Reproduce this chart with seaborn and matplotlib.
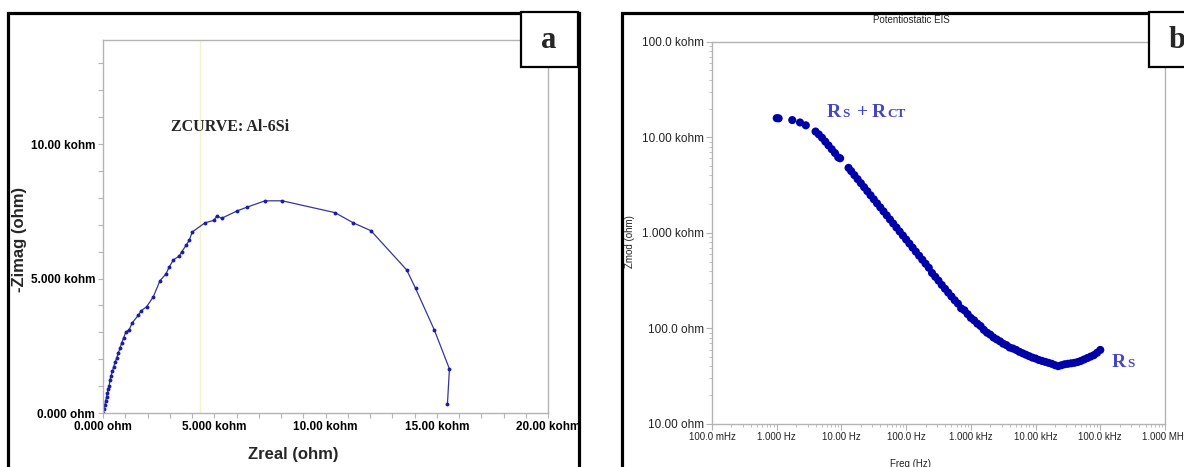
import numpy as np
import pandas as pd
import matplotlib
matplotlib.use("Agg")
import matplotlib.pyplot as plt
import seaborn as sns
from matplotlib.patches import Rectangle
from matplotlib.ticker import FixedLocator, LogLocator, NullFormatter

# ---------------- data ----------------
# Panel a: Nyquist plot (kohm)
zreal_kohm = [0.00, 0.04, 0.08, 0.12, 0.16, 0.20, 0.24, 0.28, 0.31, 0.36,
              0.42, 0.48, 0.54, 0.61, 0.68, 0.76, 0.84, 0.93, 1.03, 1.17,
              1.32, 1.59, 1.71, 1.96, 2.26, 2.56, 2.83, 2.97, 3.16, 3.43,
              3.54, 3.73, 3.88, 4.01, 4.58, 5.00, 5.11, 5.33, 6.04, 6.46,
              7.28, 8.06, 10.43, 11.25, 12.04, 13.65, 14.05, 14.89, 15.57, 15.48]
zimag_kohm = [0.00, 0.15, 0.30, 0.45, 0.60, 0.74, 0.88, 1.02, 1.23, 1.38,
              1.55, 1.72, 1.88, 2.03, 2.22, 2.40, 2.61, 2.80, 3.02, 3.09,
              3.36, 3.64, 3.80, 3.95, 4.32, 4.92, 5.17, 5.42, 5.69, 5.84,
              6.00, 6.23, 6.43, 6.73, 7.07, 7.17, 7.33, 7.24, 7.52, 7.65,
              7.89, 7.89, 7.45, 7.07, 6.78, 5.32, 4.63, 3.09, 1.64, 0.33]

# Panel b: Bode |Z| (log10 values)
log10_freq = [0.00, 0.03, 0.24, 0.36, 0.45,
              0.60, 0.65, 0.70, 0.75, 0.80, 0.85, 0.90, 0.95, 0.98,
              1.11, 1.15, 1.20, 1.25, 1.30, 1.35, 1.40, 1.45, 1.50, 1.55,
              1.60, 1.65, 1.70, 1.75, 1.80, 1.85, 1.90, 1.95, 2.00, 2.05,
              2.10, 2.15, 2.20, 2.25, 2.30, 2.35, 2.40, 2.45, 2.50, 2.55,
              2.60, 2.65, 2.70, 2.75, 2.80, 2.85, 2.90, 2.95, 3.00, 3.05,
              3.10, 3.15, 3.20, 3.25, 3.30, 3.35, 3.40, 3.45, 3.50, 3.55,
              3.60, 3.65, 3.70, 3.75, 3.80, 3.85, 3.90, 3.95, 4.00, 4.05,
              4.10, 4.15, 4.20, 4.25, 4.30, 4.35, 4.40, 4.45, 4.50, 4.55,
              4.60, 4.65, 4.70, 4.75, 4.80, 4.85, 4.90, 4.95, 5.00]
log10_zmod = [4.200, 4.198, 4.180, 4.155, 4.125,
              4.060, 4.030, 3.995, 3.955, 3.915, 3.875, 3.835, 3.790, 3.780,
              3.680, 3.646, 3.604, 3.562, 3.520, 3.478, 3.436, 3.393, 3.351, 3.309,
              3.267, 3.225, 3.183, 3.140, 3.098, 3.056, 3.014, 2.972, 2.930, 2.888,
              2.845, 2.803, 2.761, 2.719, 2.677, 2.635, 2.580, 2.540, 2.500, 2.455,
              2.415, 2.375, 2.335, 2.295, 2.260, 2.210, 2.190, 2.150, 2.110, 2.085,
              2.050, 2.025, 1.985, 1.955, 1.935, 1.905, 1.885, 1.865, 1.840, 1.825,
              1.800, 1.790, 1.775, 1.755, 1.740, 1.725, 1.710, 1.695, 1.685, 1.670,
              1.660, 1.650, 1.640, 1.630, 1.615, 1.605, 1.615, 1.625, 1.630, 1.635,
              1.640, 1.648, 1.660, 1.675, 1.690, 1.705, 1.720, 1.745, 1.775]

nyq_xticks = [0, 5000, 10000, 15000, 20000]
nyq_xticklabels = ["0.000 ohm", "5.000 kohm", "10.00 kohm", "15.00 kohm", "20.00 kohm"]
nyq_yticks = [0, 5000, 10000]
nyq_yticklabels = ["0.000 ohm", "5.000 kohm", "10.00 kohm"]

bode_xticks = [0.1, 1, 10, 100, 1e3, 1e4, 1e5, 1e6]
bode_xticklabels = ["100.0 mHz", "1.000 Hz", "10.00 Hz", "100.0 Hz",
                    "1.000 kHz", "10.00 kHz", "100.0 kHz", "1.000 MHz"]
bode_yticks = [10, 100, 1e3, 1e4, 1e5]
bode_yticklabels = ["10.00 ohm", "100.0 ohm", "1.000 kohm", "10.00 kohm", "100.0 kohm"]

# ---------------- style ----------------
sns.set_theme(style="white")
plt.rcParams["font.family"] = ["Liberation Sans", "DejaVu Sans"]

W, H = 1184, 467
fig = plt.figure(figsize=(W / 100, H / 100), dpi=100)
fig.patch.set_facecolor("white")


def fx(px):
    return px / W


def fy(py):
    return 1 - py / H


def ftext(px, py, s, **kw):
    return fig.text(fx(px), fy(py), s, **kw)


GREY = "#b4b4b4"

# ---------------- panel a ----------------
axL = fig.add_axes([fx(103), fy(413), fx(548) - fx(103), fy(40) - fy(413)])
nyq = pd.DataFrame({"zreal": np.array(zreal_kohm) * 1000,
                    "zimag": np.array(zimag_kohm) * 1000})
axL.axvline(4370, color="#f3f3d2", lw=1.0, zorder=0)
sns.lineplot(data=nyq, x="zreal", y="zimag", sort=False, estimator=None,
             color="#35359f", lw=0.9, marker="o", markersize=2.8,
             markeredgewidth=0, markerfacecolor="#1c1ca6", ax=axL)
axL.set_xlim(0, 20000)
axL.set_ylim(0, 13870)
axL.set_xticks(nyq_xticks)
axL.set_xticklabels(nyq_xticklabels, fontsize=8.5, fontweight="bold")
axL.set_yticks(nyq_yticks)
axL.set_yticklabels(nyq_yticklabels, fontsize=8.5, fontweight="bold")
axL.xaxis.set_minor_locator(FixedLocator(np.arange(0, 20001, 1000)))
axL.yaxis.set_minor_locator(FixedLocator(np.arange(0, 13870, 1000)))
axL.tick_params(axis="both", which="both", direction="out", length=3.5,
                width=0.8, color=GREY, labelcolor="black", pad=2,
                bottom=True, left=True)
axL.set_xlabel("")
axL.set_ylabel("")
for sp in axL.spines.values():
    sp.set_color(GREY)
    sp.set_linewidth(1.0)

ftext(20, 239, "-Zimag (ohm)", rotation=90, ha="center", va="center",
      fontsize=12, fontweight="bold")
ftext(293, 455, "Zreal (ohm)", ha="center", va="center",
      fontsize=12, fontweight="bold")
ftext(171, 131, "ZCURVE: Al-6Si", ha="left", va="baseline", fontsize=11.5,
      fontweight="bold", family=["Liberation Serif", "DejaVu Serif"])

# ---------------- panel b ----------------
axR = fig.add_axes([fx(712), fy(424), fx(1165) - fx(712), fy(41.7) - fy(424)])
bode = pd.DataFrame({"freq": 10 ** np.array(log10_freq),
                     "zmod": 10 ** np.array(log10_zmod)})
sns.scatterplot(data=bode, x="freq", y="zmod", s=34, color="#0000a8",
                edgecolor="none", linewidth=0, ax=axR, zorder=3)
axR.set_xscale("log")
axR.set_yscale("log")
axR.set_xlim(0.1, 1e6)
axR.set_ylim(10, 1e5)
axR.set_xticks(bode_xticks)
axR.set_xticklabels(bode_xticklabels, fontsize=7)
axR.set_yticks(bode_yticks)
axR.set_yticklabels(bode_yticklabels, fontsize=8.5)
axR.xaxis.set_minor_locator(LogLocator(base=10, subs=np.arange(2, 10), numticks=20))
axR.yaxis.set_minor_locator(LogLocator(base=10, subs=np.arange(2, 10), numticks=20))
axR.xaxis.set_minor_formatter(NullFormatter())
axR.yaxis.set_minor_formatter(NullFormatter())
axR.tick_params(axis="both", which="major", direction="out", length=4,
                width=0.8, color=GREY, labelcolor="#222222", pad=2,
                bottom=True, left=True)
axR.tick_params(axis="both", which="minor", direction="out", length=2.5,
                width=0.6, color=GREY, bottom=True, left=True)
axR.set_xlabel("")
axR.set_ylabel("")
for sp in axR.spines.values():
    sp.set_color(GREY)
    sp.set_linewidth(1.0)

ftext(911, 20, "Potentiostatic EIS", ha="center", va="center", fontsize=7,
      color="#222222")
ftext(630, 242, "Zmod (ohm)", rotation=90, ha="center", va="center",
      fontsize=7, color="#222222")
ftext(911, 464, "Freq (Hz)", ha="center", va="center", fontsize=7,
      color="#222222")

SERIF = ["Liberation Serif", "DejaVu Serif"]
LBL = "#4545cc"
for (px, s, size) in [(827, "R", 14), (842, "S", 9.5), (857, "+", 14),
                      (872, "R", 14), (887, "CT", 9.5)]:
    ftext(px, 117, s, ha="left", va="baseline", fontsize=size,
          fontweight="bold", color=LBL, family=SERIF)
for (px, s, size) in [(1112, "R", 14), (1127, "S", 9.5)]:
    ftext(px, 367, s, ha="left", va="baseline", fontsize=size,
          fontweight="bold", color=LBL, family=SERIF)

# ---------------- frames & panel letters ----------------
fig.add_artist(Rectangle((fx(8), fy(490)), fx(579) - fx(8), fy(13) - fy(490),
                         transform=fig.transFigure, fill=False,
                         edgecolor="black", lw=2.3, zorder=5))
fig.add_artist(Rectangle((fx(622), fy(490)), fx(1230) - fx(622), fy(13) - fy(490),
                         transform=fig.transFigure, fill=False,
                         edgecolor="black", lw=2.3, zorder=5))
fig.add_artist(Rectangle((fx(521), fy(67)), fx(578) - fx(521), fy(12) - fy(67),
                         transform=fig.transFigure, facecolor="white",
                         edgecolor="black", lw=1.6, zorder=6))
fig.add_artist(Rectangle((fx(1149), fy(67)), fx(1230) - fx(1149), fy(12) - fy(67),
                         transform=fig.transFigure, facecolor="white",
                         edgecolor="black", lw=1.6, zorder=6))
t = ftext(549, 40, "a", ha="center", va="center", fontsize=22,
          fontweight="bold", family=SERIF)
t.set_zorder(7)
t = ftext(1169, 40, "b", ha="left", va="center", fontsize=22,
          fontweight="bold", family=SERIF)
t.set_zorder(7)

fig.savefig("out.png", dpi=100, facecolor="white")
